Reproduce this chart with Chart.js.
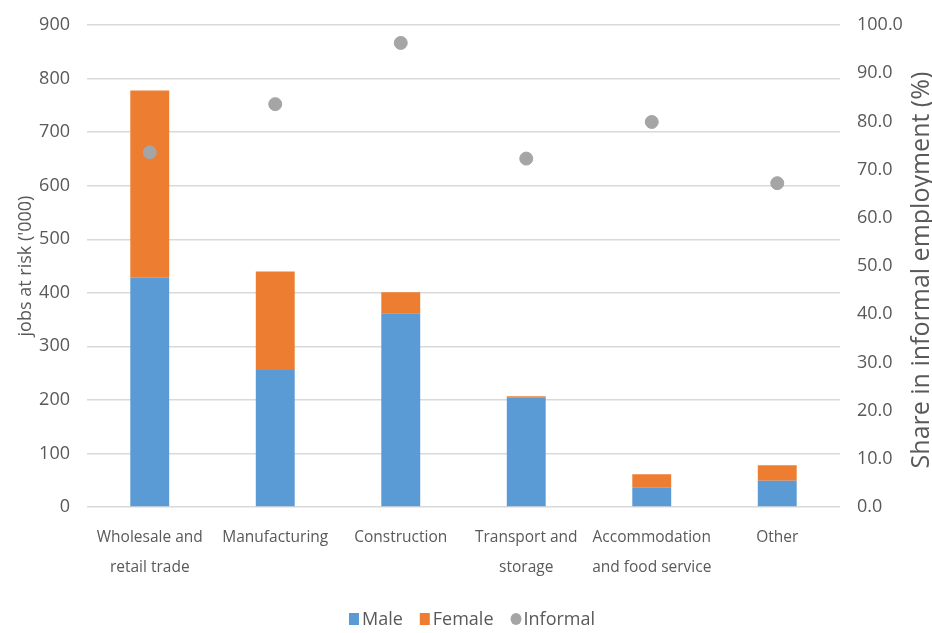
<!DOCTYPE html>
<html>
<head>
<meta charset="utf-8">
<script src="https://cdn.jsdelivr.net/npm/chart.js@4.4.1/dist/chart.umd.min.js"></script>
<style>
  html, body { margin: 0; padding: 0; background: #ffffff; }
  #wrap { width: 932px; height: 633px; position: relative; }
</style>
</head>
<body>
<div id="wrap"><canvas id="c" width="932" height="633"></canvas></div>
<script>
// Sectors and jobs at risk ('000), split by sex, plus share of informal employment (%)
const categories = [
  ['Wholesale and', 'retail trade'],
  'Manufacturing',
  'Construction',
  ['Transport and', 'storage'],
  ['Accommodation', 'and food service'],
  'Other'
];
const maleJobs = [428, 256, 362, 204, 36, 49];
const femaleJobs = [350, 184, 39, 3, 25, 29];
const informalShare = [73.6, 83.6, 96.3, 72.3, 79.9, 67.2];

const textColor = '#595959';
const gridColor = '#d9d9d9';
const fontFamily = '"Open Sans", sans-serif';
const rightTitle = 'Share in informal employment (%)';
const legendOrder = ['Male', 'Female', 'Informal'];

// Right-hand axis title, written bottom-to-top beside the percentage ticks
const rightTitlePlugin = {
  id: 'rightTitle',
  afterDraw(chart) {
    const { ctx } = chart;
    const s = chart.scales.y1;
    ctx.save();
    ctx.translate(922, (s.top + s.bottom) / 2 + 4);
    ctx.rotate(-Math.PI / 2);
    ctx.font = '25px ' + fontFamily;
    ctx.fillStyle = textColor;
    ctx.textAlign = 'center';
    ctx.textBaseline = 'middle';
    ctx.fillText(rightTitle, 0, 0);
    ctx.restore();
  }
};

// Compact legend row under the category labels: marker, label, gap
const bottomLegendPlugin = {
  id: 'bottomLegend',
  afterDraw(chart) {
    const { ctx } = chart;
    const items = chart.data.datasets
      .map((ds) => ({ text: ds.label, color: ds.backgroundColor, style: ds.pointStyle }))
      .sort((a, b) => legendOrder.indexOf(a.text) - legendOrder.indexOf(b.text));
    const markerW = 10, gapIn = 3, gapOut = 17, cy = 619;
    ctx.save();
    ctx.font = '18px ' + fontFamily;
    ctx.textBaseline = 'middle';
    ctx.textAlign = 'left';
    const widths = items.map((it) => ctx.measureText(it.text).width);
    const total = widths.reduce((a, w) => a + markerW + gapIn + w, 0) + gapOut * (items.length - 1);
    let x = chart.width / 2 - total / 2 + 6;
    items.forEach((it, i) => {
      ctx.fillStyle = it.color;
      if (it.style === 'circle') {
        ctx.beginPath();
        ctx.ellipse(x + markerW / 2 + 0.5, cy, 5.5, 6, 0, 0, Math.PI * 2);
        ctx.fill();
      } else {
        ctx.fillRect(x, cy - 6, markerW, 12);
      }
      x += markerW + gapIn;
      ctx.fillStyle = textColor;
      ctx.fillText(it.text, x, cy + 1);
      x += widths[i] + gapOut;
    });
    ctx.restore();
  }
};

new Chart(document.getElementById('c'), {
  data: {
    labels: categories,
    datasets: [
      {
        type: 'line',
        label: 'Informal',
        data: informalShare,
        yAxisID: 'y1',
        showLine: false,
        pointStyle: 'circle',
        pointRadius: 6.5,
        pointBackgroundColor: '#a5a5a5',
        pointBorderColor: '#a5a5a5',
        backgroundColor: '#a5a5a5',
        borderColor: '#a5a5a5',
        order: 0
      },
      {
        type: 'bar',
        label: 'Male',
        data: maleJobs,
        yAxisID: 'y',
        backgroundColor: '#5b9bd5',
        pointStyle: 'rect',
        stack: 'jobs',
        categoryPercentage: 1,
        barPercentage: 0.31,
        order: 1
      },
      {
        type: 'bar',
        label: 'Female',
        data: femaleJobs,
        yAxisID: 'y',
        backgroundColor: '#ed7d31',
        pointStyle: 'rect',
        stack: 'jobs',
        categoryPercentage: 1,
        barPercentage: 0.31,
        order: 1
      }
    ]
  },
  plugins: [rightTitlePlugin, bottomLegendPlugin],
  options: {
    responsive: false,
    animation: false,
    layout: { padding: { top: 8, left: 15, right: 0, bottom: 46 } },
    plugins: {
      tooltip: { enabled: false },
      legend: { display: false }
    },
    scales: {
      x: {
        stacked: true,
        grid: { display: false },
        border: { display: false },
        ticks: {
          color: textColor,
          font: { family: fontFamily, size: 15.5, lineHeight: 1.9 },
          maxRotation: 0,
          autoSkip: false,
          padding: 8
        },
        afterFit: (s) => { s.height = 80; }
      },
      y: {
        position: 'left',
        stacked: true,
        min: 0,
        max: 900,
        ticks: {
          stepSize: 100,
          color: textColor,
          font: { family: fontFamily, size: 18, lineHeight: 0.9 },
          padding: 17
        },
        grid: { color: gridColor, lineWidth: 1.5, drawTicks: false },
        border: { display: false },
        title: {
          display: true,
          text: "jobs at risk ('000)",
          color: textColor,
          font: { family: fontFamily, size: 18 },
          padding: { top: 0, bottom: 0 }
        },
        afterFit: (s) => { s.width = 72; }
      },
      y1: {
        position: 'right',
        min: 0,
        max: 100,
        ticks: {
          stepSize: 10,
          color: textColor,
          font: { family: fontFamily, size: 18, lineHeight: 0.9 },
          padding: 17,
          callback: (v) => Number(v).toFixed(1)
        },
        grid: { display: false, drawTicks: false },
        border: { display: false },
        afterFit: (s) => { s.width = 92; }
      }
    }
  }
});
</script>
</body>
</html>
